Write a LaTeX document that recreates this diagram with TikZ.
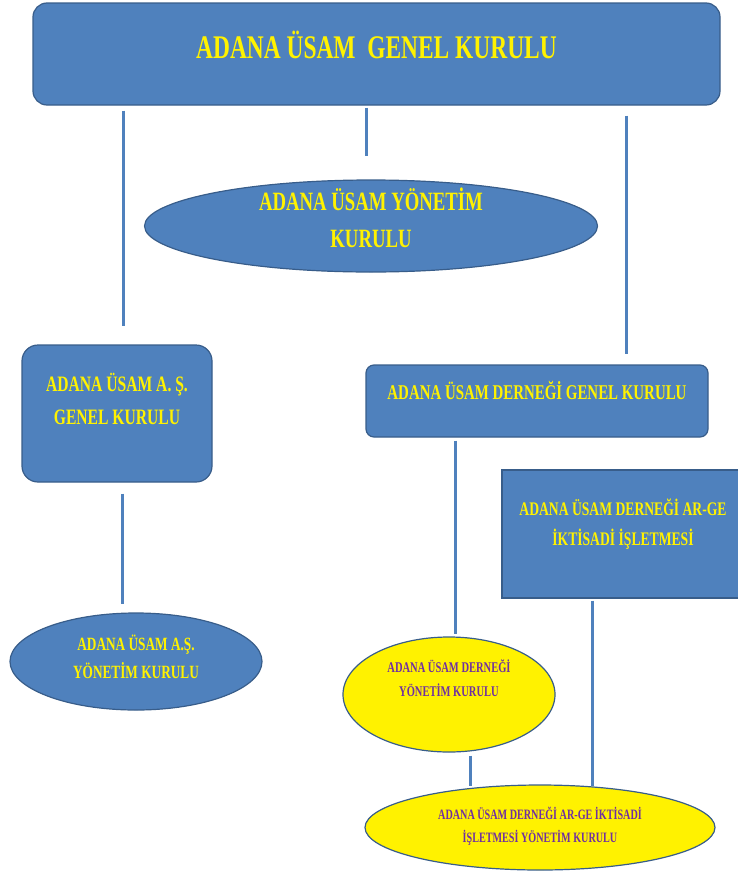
\documentclass[tikz,border=0pt]{standalone}
\usepackage{fontspec}
\newfontfamily\boxfont{Liberation Serif}[FakeStretch=0.71]
\usetikzlibrary{shapes.geometric}
\definecolor{boxblue}{HTML}{4F81BD}
\definecolor{boxedge}{HTML}{385D8A}
\definecolor{labelpurple}{HTML}{7030A0}
\newcommand{\lift}[2]{\raisebox{#1}[0pt][0pt]{\begin{tabular}{@{}c@{}}#2\end{tabular}}}

\begin{document}
\begin{tikzpicture}[x=1pt, y=-1pt,
  base/.style={draw=boxedge, line width=1.2pt, inner sep=0pt, text=yellow},
  bluebox/.style={base, fill=boxblue, rectangle, rounded corners=#1},
  bluebox/.default=14pt,
  blueoval/.style={base, fill=boxblue, ellipse},
  yellowoval/.style={base, fill=yellow, ellipse, text=labelpurple},
  link/.style={draw=boxblue, line width=3pt}]
  \useasboundingbox (0,0) rectangle (738,873);

  % boxes
  \node[bluebox, minimum width=687pt, minimum height=102pt,
    font=\boxfont\bfseries\fontsize{33}{56}\selectfont] (genel) at (376.5,54)
    {\lift{0pt}{ADANA ÜSAM~~GENEL KURULU}};
  \node[blueoval, minimum width=453pt, minimum height=92pt,
    font=\boxfont\bfseries\fontsize{26.4}{37}\selectfont] (yonetim) at (371,226)
    {\lift{-2pt}{ADANA ÜSAM YÖNETİM\\KURULU}};
  \node[bluebox=16pt, minimum width=190pt, minimum height=137pt,
    font=\boxfont\bfseries\fontsize{22}{33}\selectfont] (asgenel) at (117,413.5)
    {\lift{7pt}{ADANA ÜSAM A. Ş.\\GENEL KURULU}};
  \node[bluebox=8pt, minimum width=342pt, minimum height=72pt,
    font=\boxfont\bfseries\fontsize{21}{32}\selectfont] (dgenel) at (537,401)
    {\lift{2.8pt}{ADANA ÜSAM DERNEĞİ GENEL KURULU}};
  \node[bluebox=0pt, minimum width=242pt, minimum height=128pt,
    font=\boxfont\bfseries\fontsize{19.2}{30}\selectfont] (arge) at (623,534)
    {\lift{4.2pt}{ADANA ÜSAM DERNEĞİ AR-GE\\İKTİSADİ İŞLETMESİ}};
  \node[blueoval, minimum width=252pt, minimum height=97pt,
    font=\boxfont\bfseries\fontsize{18.7}{28}\selectfont] (asyonetim) at (136,661.5)
    {\lift{-2.2pt}{ADANA ÜSAM A.Ş.\\YÖNETİM KURULU}};
  \node[yellowoval, minimum width=212pt, minimum height=115pt,
    font=\boxfont\bfseries\fontsize{14.8}{24}\selectfont] (dyonetim) at (449,694.5)
    {\lift{10.8pt}{ADANA ÜSAM DERNEĞİ\\YÖNETİM KURULU}};
  \node[yellowoval, minimum width=350pt, minimum height=85pt,
    font=\boxfont\bfseries\fontsize{14.3}{23}\selectfont] (argeyonetim) at (540,827.5)
    {\lift{-2.6pt}{ADANA ÜSAM DERNEĞİ AR-GE İKTİSADİ\\İŞLETMESİ YÖNETİM KURULU}};

  % columns of the links
  \coordinate (colAS) at (123,0);
  \coordinate (colYK) at (366,0);
  \coordinate (colDG) at (626,0);
  \coordinate (colASY) at (122,0);
  \coordinate (colDY) at (455,0);
  \coordinate (colDYK) at (470,0);
  \coordinate (colARGE) at (592,0);

  % links
  \draw[link, shorten <=5pt, shorten >=18pt] (genel.south -| colAS) -- (asgenel.north -| colAS);
  \draw[link, shorten <=2pt, shorten >=23pt] (genel.south -| colYK) -- (yonetim.north -| colYK);
  \draw[link, shorten <=10pt, shorten >=10pt] (genel.south -| colDG) -- (dgenel.north -| colDG);
  \draw[link, shorten <=11pt, shorten >=8pt] (asgenel.south -| colASY) -- (asyonetim.north -| colASY);
  \draw[link, shorten <=3pt, shorten >=2pt] (dgenel.south -| colDY) -- (dyonetim.north -| colDY);
  \draw[link, shorten <=3pt, shorten >=-2pt] (dyonetim.south -| colDYK) -- (argeyonetim.north -| colDYK);
  \draw[link, shorten <=2pt, shorten >=-2pt] (arge.south -| colARGE) -- (argeyonetim.north -| colARGE);
\end{tikzpicture}
\end{document}
